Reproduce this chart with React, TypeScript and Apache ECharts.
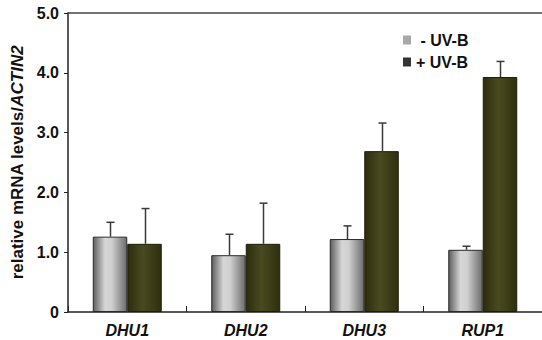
import React, { useEffect, useRef } from "react";
import * as echarts from "echarts";

const genes = ["DHU1", "DHU2", "DHU3", "RUP1"];
const seriesNames = ["- UV-B", "+ UV-B"];
const minusUvB = [1.26, 0.95, 1.22, 1.04];
const minusUvBErr = [0.24, 0.35, 0.22, 0.06];
const plusUvB = [1.14, 1.14, 2.69, 3.93];
const plusUvBErr = [0.59, 0.68, 0.47, 0.26];
const yTicks = [0, 1, 2, 3, 4, 5];

const FONT = "'Liberation Sans', Arial, Helvetica, sans-serif";
const BAR_W = 34.5;

const grayFill = new echarts.graphic.LinearGradient(0, 0, 1, 0, [
  { offset: 0, color: "#5e5e5e" },
  { offset: 0.35, color: "#d6d6d6" },
  { offset: 0.55, color: "#d0d0d0" },
  { offset: 1, color: "#6c6c6c" },
]);
const oliveFill = new echarts.graphic.LinearGradient(0, 0, 1, 0, [
  { offset: 0, color: "#2c2c0e" },
  { offset: 0.45, color: "#4a4a20" },
  { offset: 1, color: "#2f2f0f" },
]);

// [category index, bar value, upper whisker value, series index]
const errData: number[][] = [];
genes.forEach((_, i) => {
  errData.push([i, minusUvB[i], minusUvB[i] + minusUvBErr[i], 0]);
  errData.push([i, plusUvB[i], plusUvB[i] + plusUvBErr[i], 1]);
});

export default function App() {
  const ref = useRef<HTMLDivElement>(null);
  useEffect(() => {
    if (!ref.current) return;
    const chart = echarts.init(ref.current, null, { renderer: "svg" });
    chart.setOption({
      animation: false,
      backgroundColor: "#ffffff",
      textStyle: { fontFamily: FONT },
      grid: { left: 68, top: 13, width: 481, bottom: 28, containLabel: false },
      legend: {
        orient: "vertical",
        left: 403,
        top: 32,
        padding: 0,
        itemWidth: 8,
        itemHeight: 9,
        itemGap: 6,
        icon: "rect",
        formatter: (name: string) => (name === seriesNames[0] ? " " + name : name),
        textStyle: { fontFamily: FONT, fontWeight: "bold", fontSize: 16, color: "#111" },
        data: [
          { name: seriesNames[0], itemStyle: { color: "#a8a8a8", borderWidth: 0 } },
          { name: seriesNames[1], itemStyle: { color: "#333", borderWidth: 0 } },
        ],
      },
      xAxis: [
        {
          type: "category",
          data: genes,
          axisLine: { lineStyle: { color: "#222", width: 1.5 } },
          axisTick: { show: true, inside: true, length: 6, alignWithLabel: false, lineStyle: { color: "#222" } },
          axisLabel: {
            fontFamily: FONT,
            fontWeight: "bold",
            fontStyle: "italic",
            fontSize: 16,
            color: "#111",
            margin: 10,
          },
        },
        {
          type: "category",
          position: "top",
          data: genes,
          axisLine: { show: true, lineStyle: { color: "#444", width: 1.5 } },
          axisTick: { show: false },
          axisLabel: { show: false },
        },
      ],
      yAxis: {
        type: "value",
        min: 0,
        max: 5,
        interval: 1,
        name: "{a|relative mRNA levels/}{b|ACTIN2}",
        nameLocation: "middle",
        nameGap: 40,
        nameRotate: 90,
        nameTextStyle: {
          rich: {
            a: { fontFamily: FONT, fontWeight: "bold", fontSize: 17, color: "#111" },
            b: { fontFamily: FONT, fontWeight: "bold", fontStyle: "italic", fontSize: 17, color: "#111" },
          },
        },
        axisLine: { show: true, lineStyle: { color: "#222", width: 1.5 } },
        axisTick: { show: true, length: 4, lineStyle: { color: "#222" } },
        splitLine: { show: false },
        axisLabel: {
          fontFamily: FONT,
          fontWeight: "bold",
          fontSize: 16,
          color: "#111",
          margin: 9,
          formatter: (v: number) => (yTicks.includes(v) && v === 0 ? "0" : v.toFixed(1)),
        },
      },
      series: [
        {
          name: seriesNames[0],
          type: "bar",
          data: minusUvB,
          barWidth: BAR_W,
          barGap: "0%",
          itemStyle: { color: grayFill, borderColor: "#2a2a2a", borderWidth: 1 },
          z: 2,
        },
        {
          name: seriesNames[1],
          type: "bar",
          data: plusUvB,
          barWidth: BAR_W,
          barGap: "0%",
          itemStyle: { color: oliveFill, borderColor: "#1e1e08", borderWidth: 1 },
          z: 2,
        },
        {
          type: "custom",
          name: "error",
          data: errData,
          z: 3,
          silent: true,
          renderItem: (params: any, api: any) => {
            const cat = api.value(0);
            const base = api.coord([cat, api.value(1)]);
            const top = api.coord([cat, api.value(2)]);
            const offset = api.value(3) === 0 ? -BAR_W / 2 : BAR_W / 2;
            const x = Math.round(base[0] + offset) + 0.5;
            const style = { stroke: "#3a3a3a", lineWidth: 1.5 };
            return {
              type: "group",
              children: [
                { type: "line", shape: { x1: x, y1: base[1], x2: x, y2: top[1] }, style },
                { type: "line", shape: { x1: x - 4, y1: top[1], x2: x + 4, y2: top[1] }, style },
              ],
            };
          },
        },
      ],
    });
    return () => chart.dispose();
  }, []);
  return <div ref={ref} style={{ width: 542, height: 340, position: "absolute", left: 0, top: 0 }} />;
}
